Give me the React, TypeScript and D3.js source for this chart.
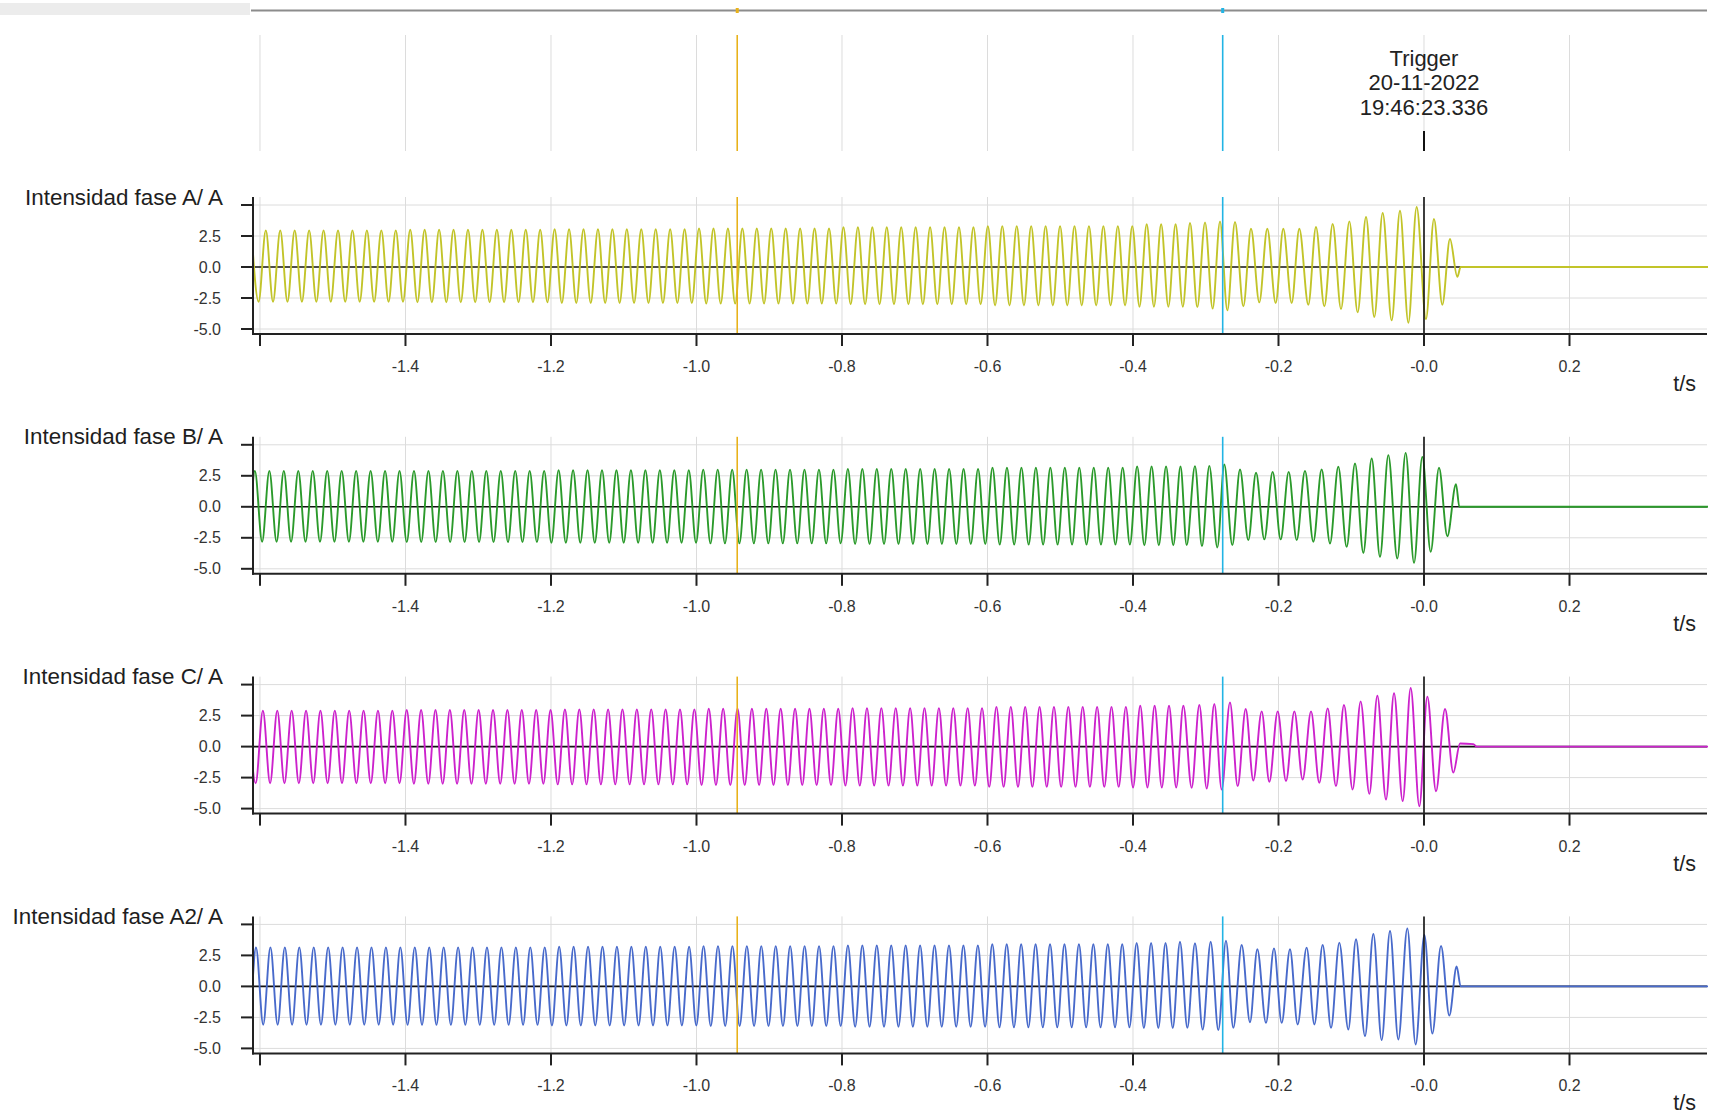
import React from "react";
import * as d3 from "d3";

const WIDTH = 1713;
const HEIGHT = 1118;

// ---------- axes / annotations ----------
const X_TICKS = [-1.6, -1.4, -1.2, -1.0, -0.8, -0.6, -0.4, -0.2, 0.0, 0.2];
const X_TICK_LABELS = ["", "-1.4", "-1.2", "-1.0", "-0.8", "-0.6", "-0.4", "-0.2", "-0.0", "0.2"];
const Y_TICKS = [5, 2.5, 0, -2.5, -5];
const Y_TICK_LABELS = ["", "2.5", "0.0", "-2.5", "-5.0"];
const X_UNIT = "t/s";

const CURSOR_YELLOW_T = -0.944;
const CURSOR_CYAN_T = -0.2767;
const TRIGGER_T = 0;
const TRIGGER_LINES = ["Trigger", "20-11-2022", "19:46:23.336"];

const CHANNEL_NAMES = [
  "Intensidad fase A/ A",
  "Intensidad fase B/ A",
  "Intensidad fase C/ A",
  "Intensidad fase A2/ A",
];
const CHANNEL_COLORS = ["#c2c429", "#2b9a2b", "#cc22cc", "#486acb"];

// ---------- steady-state part (before the disturbance) ----------
// time of first visible positive peak and cycle period, per channel
const FIRST_PEAK_T = [-1.592, -1.607, -1.596, -1.6055];
const STEADY_PERIOD = [0.01985, 0.01988, 0.01977, 0.019845];
// envelope read at the 0.2 s gridlines (holds for the following 0.2 s)
const ENV_T = [-1.6, -1.4, -1.2, -1.0, -0.8, -0.6, -0.4];
const ENV_PEAK_A = [2.95, 3.0, 3.05, 3.1, 3.2, 3.3, 3.45];
const ENV_TROUGH_A = [-2.8, -2.85, -2.9, -2.95, -3.0, -3.1, -3.2];
const ENV_PEAK_B = [2.9, 2.9, 2.95, 3.0, 3.05, 3.15, 3.25];
const ENV_TROUGH_B = [-2.82, -2.85, -2.9, -2.95, -3.0, -3.05, -3.1];
const ENV_PEAK_C = [2.9, 2.95, 3.0, 3.05, 3.1, 3.2, 3.3];
const ENV_TROUGH_C = [-2.95, -3.0, -3.05, -3.1, -3.15, -3.25, -3.3];
const ENV_PEAK_A2 = [3.15, 3.15, 3.2, 3.25, 3.3, 3.4, 3.5];
const ENV_TROUGH_A2 = [-3.09, -3.1, -3.15, -3.2, -3.25, -3.3, -3.35];

// ---------- disturbance part: extrema [t (s), value (A)] read per half cycle ----------
const LATE_A: [number, number][] = [
  [-0.3216, 3.55], [-0.3116, -3.23], [-0.301, 3.6], [-0.2905, -3.36], [-0.2804, 3.68], [-0.2703, -3.5],
  [-0.2598, 3.63], [-0.2483, -3.17], [-0.2378, 3.09], [-0.2264, -2.85], [-0.2154, 3.09], [-0.2039, -2.9],
  [-0.1934, 3.09], [-0.1819, -2.9], [-0.1714, 3.09], [-0.159, -3.04], [-0.1485, 3.23], [-0.137, -3.17],
  [-0.1255, 3.47], [-0.1141, -3.39], [-0.1026, 3.68], [-0.0912, -3.66], [-0.0797, 4.03], [-0.0683, -4.03],
  [-0.0568, 4.35], [-0.0444, -4.3], [-0.033, 4.54], [-0.0215, -4.5], [-0.0101, 4.84], [0.0027, -4.2],
  [0.0137, 3.87], [0.0252, -3.04], [0.0357, 2.26], [0.0458, -0.8], [0.0504, 0], [0.4, 0],
];
const LATE_B: [number, number][] = [
  [-0.3262, -3.09], [-0.3148, 3.28], [-0.3052, -3.17], [-0.2951, 3.3], [-0.2841, -3.28], [-0.2745, 3.41],
  [-0.2635, -3.09], [-0.2529, 3.01], [-0.2415, -2.69], [-0.2309, 2.74], [-0.2195, -2.63], [-0.208, 2.82],
  [-0.197, -2.63], [-0.186, 2.82], [-0.175, -2.69], [-0.1636, 2.9], [-0.1521, -2.82], [-0.1407, 3.01],
  [-0.1292, -2.96], [-0.1178, 3.23], [-0.1063, -3.23], [-0.0948, 3.49], [-0.0834, -3.71], [-0.0719, 3.9],
  [-0.0605, -4.03], [-0.049, 4.17], [-0.0367, -4.17], [-0.0252, 4.35], [-0.0137, -4.52], [-0.0023, 4.03],
  [0.0092, -3.63], [0.0206, 3.15], [0.0321, -2.37], [0.044, 1.83], [0.0486, 0], [0.4, 0],
];
const LATE_C: [number, number][] = [
  [-0.3308, 3.3], [-0.3194, -3.32], [-0.3088, 3.35], [-0.2987, -3.38], [-0.2882, 3.43], [-0.2781, -3.46],
  [-0.2667, 3.57], [-0.2561, -3.19], [-0.2451, 3.03], [-0.2346, -2.73], [-0.2231, 2.84], [-0.2126, -2.84],
  [-0.2011, 2.84], [-0.1897, -2.78], [-0.1782, 2.84], [-0.1668, -2.65], [-0.1553, 2.84], [-0.1439, -2.92],
  [-0.1324, 3.08], [-0.121, -3.19], [-0.11, 3.35], [-0.0981, -3.46], [-0.0871, 3.65], [-0.0751, -3.81],
  [-0.0641, 4.1], [-0.0522, -4.27], [-0.0412, 4.3], [-0.0293, -4.4], [-0.0183, 4.73], [-0.0064, -4.81],
  [0.0046, 4.03], [0.0165, -3.6], [0.0289, 3.03], [0.0403, -2.1], [0.0495, 0.25], [0.0678, 0.2],
  [0.0724, 0], [0.4, 0],
];
const LATE_A2: [number, number][] = [
  [-0.3354, 3.6], [-0.3253, -3.34], [-0.3148, 3.48], [-0.3042, -3.48], [-0.2932, 3.6], [-0.2827, -3.53],
  [-0.2722, 3.69], [-0.2621, -3.34], [-0.2506, 3.34], [-0.2392, -2.89], [-0.2291, 3.0], [-0.2172, -2.94],
  [-0.2062, 3.07], [-0.1956, -2.94], [-0.1842, 3.0], [-0.1737, -3.07], [-0.1613, 3.13], [-0.1507, -3.07],
  [-0.1393, 3.34], [-0.1278, -3.34], [-0.1164, 3.53], [-0.104, -3.48], [-0.0935, 3.8], [-0.0811, -4.01],
  [-0.0696, 4.22], [-0.0582, -4.33], [-0.0467, 4.47], [-0.0353, -4.28], [-0.0229, 4.68], [-0.0115, -4.68],
  [0.0005, 4.14], [0.0115, -3.8], [0.0234, 3.26], [0.0348, -2.35], [0.0449, 1.6], [0.0504, 0], [0.4, 0],
];

const ENV_PEAKS = [ENV_PEAK_A, ENV_PEAK_B, ENV_PEAK_C, ENV_PEAK_A2];
const ENV_TROUGHS = [ENV_TROUGH_A, ENV_TROUGH_B, ENV_TROUGH_C, ENV_TROUGH_A2];
const LATE = [LATE_A, LATE_B, LATE_C, LATE_A2];

// ---------- layout ----------
const PLOT_LEFT = 253;
const PLOT_RIGHT = 1707;
const PANEL0_TOP = 197;
const PANEL0_Y5 = 205;
const PANEL0_YM5 = 329;
const PANEL0_AXIS = 334;
const PANEL_STEP = 239.8;
const FONT = "'Liberation Sans', Arial, Helvetica, sans-serif";

const x = d3.scaleLinear().domain([-1.6096, 0.389]).range([PLOT_LEFT, PLOT_RIGHT]);

function envIndex(t: number) {
  const i = d3.bisectRight(ENV_T, t) - 1;
  return Math.max(0, Math.min(ENV_T.length - 1, i));
}

function buildSeries(ch: number): [number, number][] {
  const late = LATE[ch];
  const P = STEADY_PERIOD[ch];
  const pts: [number, number][] = [];
  const limit = late[0][0] - 0.3 * P;
  for (let j = -2; ; j++) {
    const t = FIRST_PEAK_T[ch] + (j * P) / 2;
    if (t >= limit) break;
    const k = envIndex(t);
    const isPeak = ((j % 2) + 2) % 2 === 0;
    pts.push([t, isPeak ? ENV_PEAKS[ch][k] : ENV_TROUGHS[ch][k]]);
  }
  if (pts.length && Math.sign(pts[pts.length - 1][1]) === Math.sign(late[0][1])) pts.pop();
  return pts.concat(late);
}

export default function App() {
  const panels = CHANNEL_NAMES.map((name, i) => {
    const off = i * PANEL_STEP;
    const y = d3.scaleLinear().domain([-5, 5]).range([PANEL0_YM5 + off, PANEL0_Y5 + off]);
    const top = PANEL0_TOP + off;
    const axisY = PANEL0_AXIS + off;
    const line = d3
      .line<[number, number]>()
      .x((d) => x(d[0]))
      .y((d) => y(d[1]))
      .curve(d3.curveMonotoneX);
    const path = line(buildSeries(i)) || "";
    const clipId = `clip-${i}`;
    return (
      <g key={name}>
        <clipPath id={clipId}>
          <rect x={PLOT_LEFT + 1} y={top - 5} width={PLOT_RIGHT - PLOT_LEFT} height={axisY - top + 4} />
        </clipPath>
        {/* grid */}
        {Y_TICKS.filter((v) => v !== 0).map((v) => (
          <line key={"hg" + v} x1={PLOT_LEFT} x2={PLOT_RIGHT} y1={y(v)} y2={y(v)} stroke="#dcdcdc" strokeWidth={1} />
        ))}
        {X_TICKS.map((t) => (
          <line key={"vg" + t} x1={x(t)} x2={x(t)} y1={top} y2={axisY} stroke="#dcdcdc" strokeWidth={1} />
        ))}
        {/* zero line */}
        <line x1={PLOT_LEFT} x2={PLOT_RIGHT} y1={y(0)} y2={y(0)} stroke="#111" strokeWidth={1.6} />
        {/* waveform */}
        <path d={path} fill="none" stroke={CHANNEL_COLORS[i]} strokeWidth={1.9} clipPath={`url(#${clipId})`} />
        {/* cursors */}
        <line x1={x(CURSOR_YELLOW_T)} x2={x(CURSOR_YELLOW_T)} y1={top} y2={axisY} stroke="#e8b21a" strokeWidth={1.6} />
        <line x1={x(CURSOR_CYAN_T)} x2={x(CURSOR_CYAN_T)} y1={top} y2={axisY} stroke="#22b4e4" strokeWidth={1.6} />
        <line x1={x(TRIGGER_T)} x2={x(TRIGGER_T)} y1={top} y2={axisY} stroke="#111" strokeWidth={1.6} />
        {/* axes */}
        <line x1={PLOT_LEFT} x2={PLOT_LEFT} y1={top} y2={axisY + 1} stroke="#222" strokeWidth={2} />
        <line x1={PLOT_LEFT - 1} x2={PLOT_RIGHT} y1={axisY} y2={axisY} stroke="#222" strokeWidth={2} />
        {Y_TICKS.map((v, k) => (
          <g key={"yt" + v}>
            <line x1={PLOT_LEFT - 12} x2={PLOT_LEFT} y1={y(v)} y2={y(v)} stroke="#222" strokeWidth={2} />
            <text x={221} y={y(v) + 5.5} textAnchor="end" fontSize={16} fill="#333" fontFamily={FONT}>
              {Y_TICK_LABELS[k]}
            </text>
          </g>
        ))}
        {X_TICKS.map((t, k) => (
          <g key={"xt" + t}>
            <line x1={x(t)} x2={x(t)} y1={axisY} y2={axisY + 12} stroke="#222" strokeWidth={2} />
            <text x={x(t)} y={axisY + 38} textAnchor="middle" fontSize={16} fill="#333" fontFamily={FONT}>
              {X_TICK_LABELS[k]}
            </text>
          </g>
        ))}
        <text x={1696} y={axisY + 57} textAnchor="end" fontSize={21.5} fill="#222" fontFamily={FONT}>
          {X_UNIT}
        </text>
        <text x={223} y={top + 7.5} textAnchor="end" fontSize={22.4} fill="#1e1e1e" fontFamily={FONT}>
          {name}
        </text>
      </g>
    );
  });

  return (
    <svg
      width={WIDTH}
      height={HEIGHT}
      style={{ position: "absolute", left: 0, top: 0, background: "#fff" }}
      xmlns="http://www.w3.org/2000/svg"
    >
      <rect x={0} y={0} width={WIDTH} height={HEIGHT} fill="#fff" />
      {/* top scroll bar */}
      <rect x={0} y={3} width={250} height={12} fill="#ececec" />
      <line x1={PLOT_LEFT - 2} x2={PLOT_RIGHT} y1={10.5} y2={10.5} stroke="#8c8c8c" strokeWidth={2} />
      <rect x={x(CURSOR_YELLOW_T) - 1.5} y={8} width={3} height={5} fill="#e8b21a" />
      <rect x={x(CURSOR_CYAN_T) - 1.5} y={8} width={3} height={5} fill="#22b4e4" />
      {/* top strip */}
      {X_TICKS.map((t) => (
        <line key={"tg" + t} x1={x(t)} x2={x(t)} y1={35} y2={151} stroke="#dcdcdc" strokeWidth={1} />
      ))}
      <line x1={x(CURSOR_YELLOW_T)} x2={x(CURSOR_YELLOW_T)} y1={35} y2={151} stroke="#e8b21a" strokeWidth={1.6} />
      <line x1={x(CURSOR_CYAN_T)} x2={x(CURSOR_CYAN_T)} y1={35} y2={151} stroke="#22b4e4" strokeWidth={1.6} />
      <line x1={x(TRIGGER_T)} x2={x(TRIGGER_T)} y1={131} y2={151} stroke="#111" strokeWidth={2} />
      {TRIGGER_LINES.map((s, k) => (
        <text key={s} x={x(TRIGGER_T)} y={65.5 + k * 24.5} textAnchor="middle" fontSize={22} fill="#222" fontFamily={FONT}>
          {s}
        </text>
      ))}
      {panels}
    </svg>
  );
}
